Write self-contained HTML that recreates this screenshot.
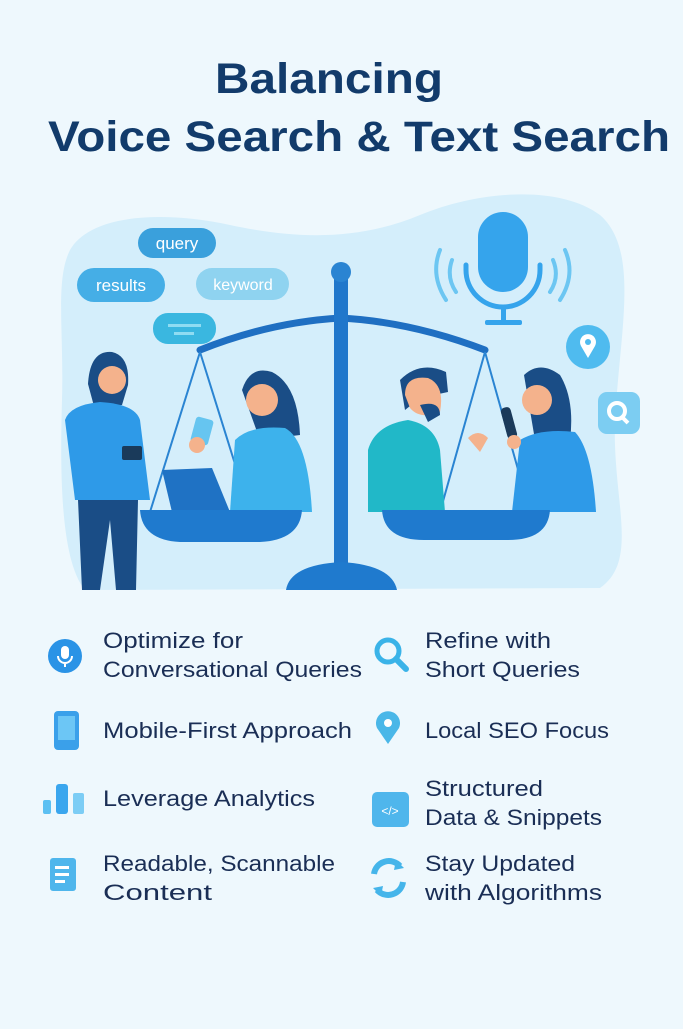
<!DOCTYPE html>
<html><head><meta charset="utf-8"><style>
html,body{margin:0;padding:0}
body{width:683px;height:1024px;background:#eef8fd;overflow:hidden;font-family:"Liberation Sans",sans-serif}
</style></head><body>
<svg width="683" height="1024" viewBox="0 0 683 1024" xmlns="http://www.w3.org/2000/svg">
<rect width="683" height="1024" fill="#eef8fd"/>
<text x="329" y="93" text-anchor="middle" font-family="Liberation Sans" font-weight="bold" font-size="43" fill="#123b6b" textLength="228" lengthAdjust="spacingAndGlyphs">Balancing</text>
<text x="359" y="151" text-anchor="middle" font-family="Liberation Sans" font-weight="bold" font-size="43" fill="#123b6b" textLength="622" lengthAdjust="spacingAndGlyphs">Voice Search &amp; Text Search</text>
<!-- blob -->
<path d="M70 250 C90 215 160 210 230 225 C300 240 360 240 420 215 C480 190 560 185 600 215 C640 250 620 330 615 420 C612 500 640 560 600 588 L85 590 C60 560 60 470 62 400 C64 330 55 280 70 250 Z" fill="#d4eefb"/>
<!-- bubbles -->
<rect x="138" y="228" width="78" height="30" rx="15" fill="#3aa0dc"/><text x="177" y="249" text-anchor="middle" font-size="17" fill="#fff">query</text>
<rect x="77" y="268" width="88" height="34" rx="17" fill="#45aee6"/><text x="121" y="291" text-anchor="middle" font-size="17" fill="#fff">results</text>
<rect x="196" y="268" width="93" height="32" rx="16" fill="#8fd3f0"/><text x="243" y="290" text-anchor="middle" font-size="16" fill="#fff">keyword</text>
<rect x="153" y="313" width="63" height="31" rx="15" fill="#3ab7e0"/><rect x="168" y="324" width="33" height="3" fill="#8fdcf2"/><rect x="174" y="332" width="20" height="3" fill="#8fdcf2"/>
<!-- mic -->
<rect x="478" y="212" width="50" height="80" rx="25" fill="#35a4ec"/>
<path d="M466 265 V270 A37 37 0 0 0 540 270 V265" fill="none" stroke="#35a4ec" stroke-width="5" stroke-linecap="round"/>
<rect x="501" y="305" width="5" height="18" fill="#35a4ec"/><rect x="485" y="320" width="37" height="5" rx="2" fill="#35a4ec"/>
<path d="M440 250 Q430 275 446 300 M452 260 Q446 277 456 292 M565 250 Q576 275 560 300 M553 260 Q560 277 550 292" fill="none" stroke="#6cc6f2" stroke-width="4" stroke-linecap="round"/>
<circle cx="588" cy="347" r="22" fill="#4fbbef"/><path d="M588 358 L581 346 A8 8 0 1 1 595 346 Z" fill="#fff"/><circle cx="588" cy="342" r="3" fill="#4fbbef"/>
<rect x="598" y="392" width="42" height="42" rx="9" fill="#7ccdf2"/><circle cx="617" cy="411" r="8" fill="none" stroke="#fff" stroke-width="4"/><path d="M622 417 l6 6" stroke="#fff" stroke-width="4"/>
<!-- scale -->
<path d="M200 350 Q270 322 341 318 Q412 322 485 350" fill="none" stroke="#1f6fc2" stroke-width="7" stroke-linecap="round"/>
<path d="M200 352 L150 512 M200 352 L250 512 M485 352 L440 512 M485 352 L530 512" stroke="#2a84d2" stroke-width="2"/>
<rect x="334" y="278" width="14" height="300" fill="#2077cb"/>
<circle cx="341" cy="272" r="10" fill="#2a84d2"/>
<path d="M286 590 Q290 565 341 562 Q392 565 397 590 Z" fill="#1f7ace"/>
<!-- left people -->
<path d="M88 384 Q90 350 112 352 Q130 356 128 385 L122 405 L95 410 Z" fill="#1a4d86"/>
<circle cx="112" cy="380" r="14" fill="#f4b28c"/>
<path d="M65 420 Q70 405 100 402 Q135 404 140 420 L150 500 L75 500 Z" fill="#2e9ae8"/>
<path d="M78 500 H138 L136 590 H116 L110 520 L100 590 H82 Z" fill="#1a4d86"/>
<rect x="122" y="446" width="20" height="14" rx="2" fill="#1a3a5a"/>
<path d="M242 390 Q250 365 272 372 Q298 385 300 435 L260 440 Z" fill="#1a4d86"/>
<circle cx="262" cy="400" r="16" fill="#f4b28c"/>
<path d="M235 440 Q250 425 285 428 Q308 440 312 512 L230 512 Z" fill="#3db2ec"/>
<path d="M162 470 L212 468 L230 512 L172 512 Z" fill="#1f72c4"/>
<rect x="193" y="418" width="18" height="26" rx="3" fill="#66c5f0" transform="rotate(15 202 431)"/>
<circle cx="197" cy="445" r="8" fill="#f4b28c"/>
<!-- right people -->
<path d="M400 380 Q420 360 446 372 L448 392 L420 398 L405 410 Z" fill="#1a4d86"/>
<path d="M405 395 Q405 375 428 378 Q445 385 440 412 Q420 420 410 408 Z" fill="#f4b28c"/>
<path d="M420 405 Q440 400 440 415 L428 422 Z" fill="#1a4d86"/>
<path d="M368 450 Q375 425 408 420 Q435 425 440 450 L445 512 L368 512 Z" fill="#21b8c8"/>
<path d="M468 438 q10 -10 20 0 l-8 14 z" fill="#f4b28c"/>
<path d="M524 375 Q540 360 560 375 Q575 400 570 440 L535 440 Z" fill="#1a4d86"/>
<circle cx="537" cy="400" r="15" fill="#f4b28c"/>
<path d="M520 440 Q540 428 575 432 Q592 450 596 512 L512 512 Z" fill="#2e9ae8"/>
<rect x="504" y="407" width="10" height="32" rx="4" fill="#1a3a5a" transform="rotate(-15 509 423)"/>
<circle cx="514" cy="442" r="7" fill="#f4b28c"/>
<!-- pans -->
<path d="M140 510 H302 Q300 540 260 542 H180 Q142 540 140 510 Z" fill="#1f7ace"/>
<path d="M382 510 H550 Q548 540 508 540 H424 Q384 540 382 510 Z" fill="#1f7ace"/>
<g font-family="Liberation Sans" font-size="22" fill="#1a2e55">
<text x="103" y="648" textLength="140" lengthAdjust="spacingAndGlyphs">Optimize for</text><text x="103" y="677" textLength="259" lengthAdjust="spacingAndGlyphs">Conversational Queries</text>
<text x="425" y="648" textLength="126" lengthAdjust="spacingAndGlyphs">Refine with</text><text x="425" y="677" textLength="155" lengthAdjust="spacingAndGlyphs">Short Queries</text>
<text x="103" y="738" textLength="249" lengthAdjust="spacingAndGlyphs">Mobile-First Approach</text><text x="425" y="738" textLength="184" lengthAdjust="spacingAndGlyphs">Local SEO Focus</text>
<text x="103" y="806" textLength="212" lengthAdjust="spacingAndGlyphs">Leverage Analytics</text>
<text x="425" y="796" textLength="118" lengthAdjust="spacingAndGlyphs">Structured</text><text x="425" y="825" textLength="177" lengthAdjust="spacingAndGlyphs">Data &amp; Snippets</text>
<text x="103" y="871" textLength="232" lengthAdjust="spacingAndGlyphs">Readable, Scannable</text><text x="103" y="900" textLength="109" lengthAdjust="spacingAndGlyphs">Content</text>
<text x="425" y="871" textLength="150" lengthAdjust="spacingAndGlyphs">Stay Updated</text><text x="425" y="900" textLength="177" lengthAdjust="spacingAndGlyphs">with Algorithms</text>
</g>
<!-- icons -->
<circle cx="65" cy="656" r="17" fill="#2a93e6"/><rect x="61" y="646" width="8" height="13" rx="4" fill="#fff"/><path d="M58 656 a7 7 0 0 0 14 0 M65 663 v4" fill="none" stroke="#fff" stroke-width="2"/>
<circle cx="388" cy="651" r="11" fill="none" stroke="#3ab3e8" stroke-width="5"/><path d="M396 659 l10 10" stroke="#3ab3e8" stroke-width="6" stroke-linecap="round"/>
<rect x="54" y="711" width="25" height="39" rx="4" fill="#3aa0ea"/><rect x="58" y="716" width="17" height="24" fill="#6cc6f5"/>
<path d="M388 744 L377 728 A12 12 0 1 1 399 728 Z" fill="#4ab7e8"/><circle cx="388" cy="723" r="4" fill="#fff"/>
<rect x="43" y="800" width="8" height="14" rx="2" fill="#5cc0f2"/><rect x="56" y="784" width="12" height="30" rx="3" fill="#3aa6ee"/><rect x="73" y="793" width="11" height="21" rx="2" fill="#7ccdf5"/>
<rect x="372" y="792" width="37" height="35" rx="5" fill="#4fb6ec"/><text x="390" y="815" text-anchor="middle" font-size="12" fill="#fff">&lt;/&gt;</text>
<rect x="50" y="858" width="26" height="33" rx="3" fill="#4fb6ec"/><rect x="55" y="866" width="14" height="3" fill="#fff"/><rect x="55" y="873" width="14" height="3" fill="#fff"/><rect x="55" y="880" width="10" height="3" fill="#fff"/>
<path d="M374 874 A15 15 0 0 1 400 866 M403 882 A15 15 0 0 1 377 890" fill="none" stroke="#45b5ea" stroke-width="6"/>
<path d="M396 860 l8 8 l-10 2 z M381 896 l-8 -8 l10 -2 z" fill="#45b5ea"/>
</svg>
</body></html>
